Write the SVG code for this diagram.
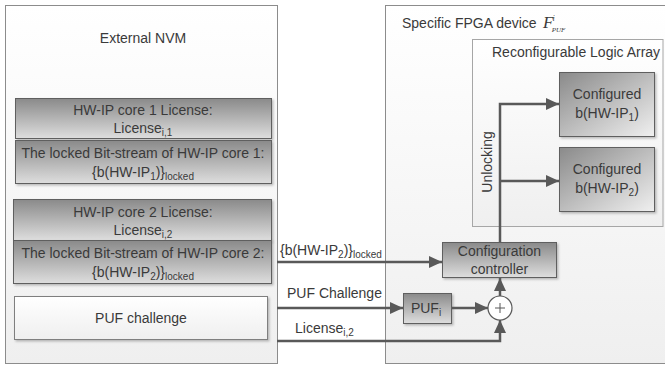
<svg xmlns="http://www.w3.org/2000/svg" width="665" height="365" viewBox="0 0 665 365">
<style>
text{font-family:"Liberation Sans",Arial,sans-serif;font-size:14px;fill:#3a3a3a}
.c{text-anchor:middle}
.outer{fill:url(#gOuter);stroke:#8c8c8c;stroke-width:1}
.dark{fill:url(#gDark);stroke:#5f5f5f;stroke-width:1;filter:url(#sh)}
.diag{fill:url(#gDiag);stroke:#5f5f5f;stroke-width:1;filter:url(#sh)}
.light{fill:url(#gOuter);stroke:#7f7f7f;stroke-width:1;filter:url(#sh)}
.conn{fill:none;stroke:#595959;stroke-width:2.5;marker-end:url(#ah)}
.sub{font-size:10px}
</style>
<defs>
<linearGradient id="gOuter" x1="0" y1="0" x2="0" y2="1">
<stop offset="0" stop-color="#ffffff"/><stop offset="1" stop-color="#efefef"/>
</linearGradient>
<linearGradient id="gDark" x1="0" y1="0" x2="0" y2="1">
<stop offset="0" stop-color="#8a8a8a"/><stop offset="1" stop-color="#dedede"/>
</linearGradient>
<linearGradient id="gDiag" x1="0" y1="0" x2="1" y2="1">
<stop offset="0" stop-color="#8a8a8a"/><stop offset="1" stop-color="#f0f0f0"/>
</linearGradient>
<filter id="sh" x="-10%" y="-10%" width="130%" height="130%">
<feDropShadow dx="1.5" dy="1.5" stdDeviation="0.8" flood-color="#000" flood-opacity="0.25"/>
</filter>
<marker id="ah" markerUnits="userSpaceOnUse" markerWidth="14" markerHeight="12" refX="13" refY="6" orient="auto">
<path d="M0,0 L13,6 L0,12 z" fill="#595959"/>
</marker>
</defs>

<g id="external-nvm">
<rect class="outer" x="5.5" y="5.5" width="272" height="358"/>
<text class="c" x="143" y="43">External NVM</text>
</g>

<g id="license1">
<rect class="dark" x="15.5" y="98.5" width="256" height="40"/>
<text class="c" x="143" y="115">HW-IP core 1 License:</text>
<text class="c" x="143" y="133">License<tspan class="sub" dy="3">i,1</tspan></text>
</g>

<g id="bitstream1">
<rect class="dark" x="15.5" y="140.5" width="256" height="43"/>
<text class="c" x="143" y="158">The locked Bit-stream of HW-IP core 1:</text>
<text class="c" x="143" y="177">{b(HW-IP<tspan class="sub" dy="3">1</tspan><tspan dy="-3">)}</tspan><tspan class="sub" dy="3">locked</tspan></text>
</g>

<g id="license2">
<rect class="dark" x="13.5" y="199.5" width="258" height="41"/>
<text class="c" x="143" y="217">HW-IP core 2 License:</text>
<text class="c" x="143" y="235">License<tspan class="sub" dy="3">i,2</tspan></text>
</g>

<g id="bitstream2">
<rect class="dark" x="13.5" y="240.5" width="258" height="43"/>
<text class="c" x="143" y="258">The locked Bit-stream of HW-IP core 2:</text>
<text class="c" x="143" y="277">{b(HW-IP<tspan class="sub" dy="3">2</tspan><tspan dy="-3">)}</tspan><tspan class="sub" dy="3">locked</tspan></text>
</g>

<g id="puf-challenge">
<rect class="light" x="14.5" y="296.5" width="253" height="43"/>
<text class="c" x="141" y="323">PUF challenge</text>
</g>

<g id="fpga">
<rect class="outer" x="385.5" y="5.5" width="290" height="358"/>
<text x="402" y="28">Specific FPGA device</text>
<text x="543" y="28" style="font-family:'Liberation Serif',serif;font-style:italic;font-size:17px">F<tspan style="font-size:8px" dy="-7" dx="-1">i</tspan><tspan style="font-size:7px" dy="11" dx="-3">PUF</tspan></text>
</g>

<g id="logic-array">
<rect class="outer" x="472.5" y="39.5" width="190.5" height="187" style="fill:url(#gOuter);stroke:#a6a6a6"/>
<text x="492" y="57">Reconfigurable Logic Array</text>
</g>

<g id="configured1">
<rect class="diag" x="559.5" y="72.5" width="95" height="64"/>
<text class="c" x="607" y="99">Configured</text>
<text class="c" x="607" y="118">b(HW-IP<tspan class="sub" dy="3">1</tspan><tspan dy="-3">)</tspan></text>
</g>

<g id="configured2">
<rect class="diag" x="559.5" y="147.5" width="95" height="64"/>
<text class="c" x="607" y="174">Configured</text>
<text class="c" x="607" y="193">b(HW-IP<tspan class="sub" dy="3">2</tspan><tspan dy="-3">)</tspan></text>
</g>

<g id="controller">
<rect class="dark" x="442.5" y="242.5" width="114" height="35"/>
<text class="c" x="499.5" y="256">Configuration</text>
<text class="c" x="499.5" y="274">controller</text>
</g>

<g id="puf">
<rect class="dark" x="403.5" y="293.5" width="48" height="30"/>
<text class="c" x="426" y="313">PUF<tspan class="sub" dy="3">i</tspan></text>
</g>

<g id="xor">
<circle cx="500" cy="308" r="12" fill="#ffffff" stroke="#595959" stroke-width="1.2"/>
<path d="M495,308 H505 M500,303 V313" stroke="#595959" stroke-width="1"/>
</g>

<g id="connectors">
<path class="conn" d="M277,262 H442"/>
<path class="conn" d="M277,308 H403"/>
<path class="conn" d="M452,308 H488"/>
<path class="conn" d="M277,341 H500 V320"/>
<path class="conn" d="M500,296 V278"/>
<path class="conn" d="M500,242 V104 H559"/>
<path class="conn" d="M500,181 H559"/>
<text x="280" y="255">{b(HW-IP<tspan class="sub" dy="3">2</tspan><tspan dy="-3">)}</tspan><tspan class="sub" dy="3">locked</tspan></text>
<text x="287" y="298">PUF Challenge</text>
<text x="295" y="333">License<tspan class="sub" dy="3">i,2</tspan></text>
<text transform="translate(492,162) rotate(-90)" class="c">Unlocking</text>
</g>
</svg>
